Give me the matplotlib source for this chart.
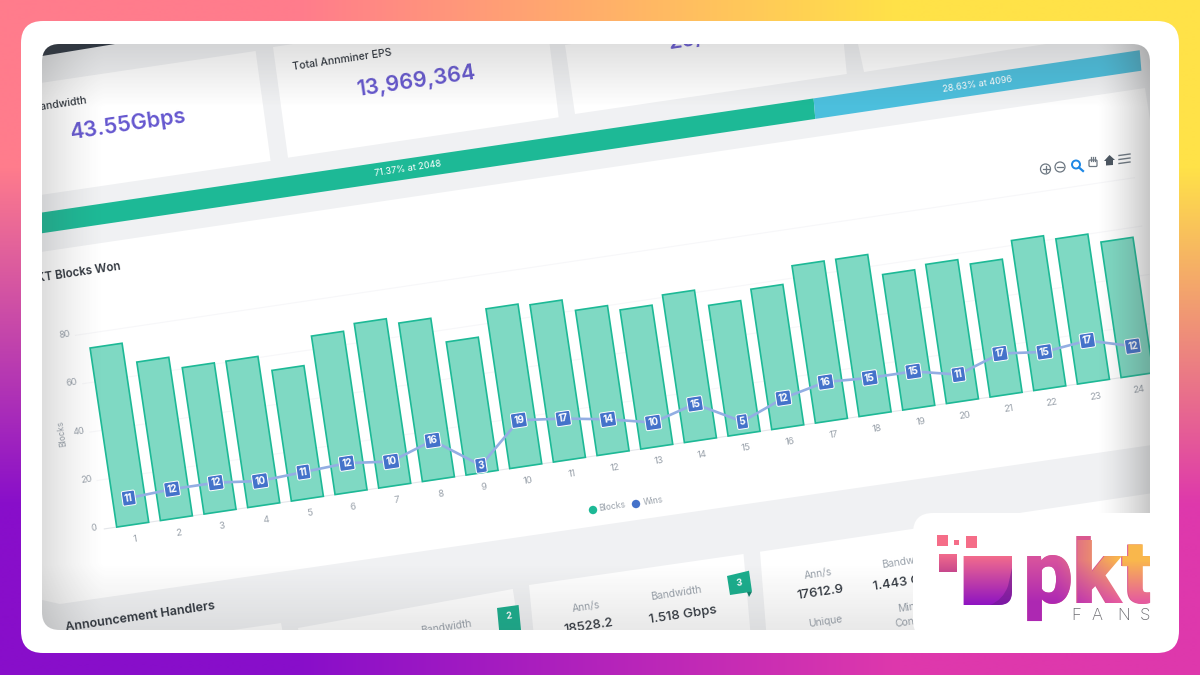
import numpy as np
import matplotlib
matplotlib.use('Agg')
import matplotlib.pyplot as plt
from matplotlib.patches import FancyBboxPatch, Polygon, Rectangle, Circle, PathPatch
from matplotlib.path import Path
from matplotlib.textpath import TextPath
from matplotlib.font_manager import FontProperties
from matplotlib.transforms import Affine2D, Bbox, TransformedBbox

# Data
categories = list(range(1, 25))
blocks = [74, 65.5, 60.5, 60.5, 54, 65.5, 68, 65.5, 55, 66, 65, 60,
          57.5, 61, 54, 58, 65, 65, 56, 57.5, 55, 62, 60, 56]
wins = [11, 12, 12, 10, 11, 12, 10, 16, 3, 19, 17, 14,
        10, 15, 5, 12, 16, 15, 15, 11, 17, 15, 17, 12]
y_ticks = [0, 20, 40, 60, 80]
progress_shares = [71.37, 28.63]
progress_labels = ['71.37% at 2048', '28.63% at 4096']

TILT = 8.4
GREEN = '#1db996'
BLUE = '#4472ca'
PURPLE = '#6557cf'
DARK = '#30363e'
GREY = '#9aa2ab'
FONT = 'Inter'

plt.rcParams['font.family'] = [FONT, 'DejaVu Sans']

fig = plt.figure(figsize=(12, 6.75), dpi=100)
ax = fig.add_axes([0, 0, 1, 1])
ax.set_axis_off()


def hold_page():
    ax.set_xlim(0, 1200)
    ax.set_ylim(675, 0)
    ax.set_aspect('auto')


# Backdrop gradient
corners = np.array([[[255, 124, 140], [255, 226, 72]],
                    [[136, 14, 202], [222, 56, 172]]]) / 255
ax.imshow(corners, extent=(0, 1200, 675, 0), interpolation='bilinear', zorder=0)
hold_page()
ax.add_patch(FancyBboxPatch((41, 41), 1118, 592, boxstyle='round,pad=20,rounding_size=22',
                            fc='white', ec='none', zorder=1))

panel = FancyBboxPatch((60, 62), 1072, 550, boxstyle='round,pad=18,rounding_size=18',
                       fc='#f0f1f3', ec='none', zorder=2)
ax.add_patch(panel)
# agg only clips text to rectangles
panel_box = TransformedBbox(Bbox([[42, 44], [1150, 630]]), ax.transData)


def clip(artist):
    artist.set_clip_path(panel)
    return artist


def poly(points, color, z=3):
    return clip(ax.add_patch(Polygon(points, closed=True, fc=color, ec='none', zorder=z)))


def label(x, y, s, size, color=DARK, weight='normal', ha='center', rot=TILT, z=8):
    t = ax.text(x, y, s, fontsize=size, color=color, fontweight=weight, ha=ha, va='center',
                rotation=rot, rotation_mode='anchor', zorder=z, clip_on=True)
    t.set_clip_box(panel_box)
    return t


# Cards around the chart
poly([(42, 44), (115, 44), (42, 56)], '#2b3440', 3)
poly([(0, 89), (255.6, 51), (270.6, 161), (0, 201)], 'white')
poly([(273, 47), (545, 7), (558.7, 117.3), (288, 157.7)], 'white')
poly([(565, 45), (840, 4), (846.8, 74), (575, 114)], 'white')
poly([(858, 44), (1100, 8), (1137, 30), (864, 72)], 'white')
poly([(7, 257), (1145, 88), (1200, 438), (60, 604), (42, 600)], 'white')
poly([(0, 664), (281, 623), (290, 670), (0, 700)], 'white')
poly([(298, 628), (512.8, 589), (522, 650), (305, 680)], 'white')
poly([(529, 585), (743.5, 554), (752, 650), (538, 680)], 'white')
poly([(760, 551.7), (1200, 486), (1200, 650), (770, 680)], 'white')

label(342, 60, 'Total Annminer EPS', 7.6, weight='medium')
label(416, 81, '13,969,364', 15.5, PURPLE, 'semibold')
label(87, 100, 'Bandwidth', 7.6, ha='right', weight='medium')
label(128, 125, '43.55Gbps', 15.5, PURPLE, 'semibold')
label(692, 40, '20/s', 15.5, PURPLE, 'semibold')

# Progress bar
progress = Affine2D.from_values(11.39, -1.684, 1.7, 20.5, 0.7, 218.6) + ax.transData
left = 0
for share, color, text in zip(progress_shares, [GREEN, '#4cbfdd'], progress_labels):
    for bar in ax.barh(0.5, share, height=1, left=left, color=color, transform=progress, zorder=4):
        clip(bar)
    ax.text(left + share / 2, 0.5, text, transform=progress, color='white', fontsize=6.6,
            ha='center', va='center', rotation=TILT, rotation_mode='anchor', zorder=5)
    left += share
hold_page()

# Chart: category/value plane mapped onto the tilted page
skew = Affine2D.from_values(43.67, -6.5, -0.36, -2.42, 89.03, 531.2) + ax.transData
for tick in y_ticks[1:]:
    clip(ax.plot([0.35, 24.6], [tick, tick], color='#f7f7f9', lw=0.8, transform=skew, zorder=4)[0])
clip(ax.plot([0.35, 24.6], [0, 0], color='#e4e6ea', lw=0.8, transform=skew, zorder=4)[0])

for bar in ax.bar(categories, blocks, width=0.733, color='#7fd9c3', edgecolor=GREEN, linewidth=1.2,
                  transform=skew, zorder=5):
    clip(bar)
clip(ax.plot(categories, wins, color='#93aee3', lw=1.9, transform=skew, zorder=6)[0])
for c, w in zip(categories, wins):
    ax.text(c, w, str(w), transform=skew, color='white', fontsize=7, fontweight='bold',
            ha='center', va='center', rotation=TILT, rotation_mode='anchor', zorder=7,
            bbox=dict(boxstyle='round,pad=0.24,rounding_size=0.15', fc=BLUE, ec='white', lw=0.7))
    ax.text(c, -6, str(c), transform=skew, color=GREY, fontsize=6.8,
            ha='center', va='center', rotation=TILT, rotation_mode='anchor', zorder=7)
for tick in y_ticks:
    ax.text(0.114, tick + 1, str(tick), transform=skew, color=GREY, fontsize=6.6,
            ha='center', va='center', rotation=TILT, rotation_mode='anchor', zorder=7)
hold_page()

label(61.5, 433, 'Blocks', 6, GREY, rot=98)
label(75, 273, 'PKT Blocks Won', 8.3, DARK, 'semibold')
clip(ax.add_patch(Circle((593, 510), 4.2, fc=GREEN, ec='none', zorder=7)))
clip(ax.add_patch(Circle((636, 504), 4.2, fc=BLUE, ec='none', zorder=7)))
label(612, 507, 'Blocks', 6.2, GREY)
label(653, 501, 'Wins', 6.2, GREY)

# Toolbar icons
for x, y in [(1045.5, 169), (1060, 167)]:
    ax.add_patch(Circle((x, y), 5, fc='none', ec='#6e7882', lw=0.9, zorder=7))
    ax.plot([x - 3, x + 3], [y, y], color='#6e7882', lw=0.9, zorder=7)
ax.plot([1045.5, 1045.5], [166, 172], color='#6e7882', lw=0.9, zorder=7)
ax.add_patch(Circle((1076, 164.5), 4, fc='none', ec='#1e88e5', lw=1.4, zorder=7))
ax.plot([1079, 1083], [167.5, 171], color='#1e88e5', lw=1.6, zorder=7)
ax.add_patch(FancyBboxPatch((1090, 161), 6, 4.5, boxstyle='round,pad=1', fc='none', ec='#6e7882',
                            lw=0.9, zorder=7))
for fx in [1090.5, 1092.8, 1095.1]:
    ax.plot([fx, fx], [157, 160.5], color='#6e7882', lw=0.9, zorder=7)
ax.add_patch(Polygon([(1104, 161), (1109.5, 155), (1115, 160), (1113, 160), (1113, 165), (1106, 165.5),
                      (1106, 161)], fc='#4c5661', ec='none', zorder=7))
for dy in [0, 4, 8]:
    ax.plot([1119, 1130], [155.5 + dy, 154 + dy], color='#6e7882', lw=1, zorder=7)

# Bottom row
label(140, 617, 'Announcement Handlers', 9, DARK, 'semibold')
label(446, 627, 'Bandwidth', 7.4, GREY)
label(586, 607, 'Ann/s', 7.4, GREY)
label(589, 626, '18528.2', 9.4, DARK, 'medium')
label(676, 593, 'Bandwidth', 7.4, GREY)
label(683, 615, '1.518 Gbps', 9.6, DARK, 'medium')
label(818, 574, 'Ann/s', 7.4, GREY)
label(820, 593, '17612.9', 9.6, DARK, 'medium')
label(907, 561, 'Bandwidth', 7.4, GREY)
label(908, 582, '1.443 Gbps', 9.4, DARK, 'medium')
label(825, 622, 'Unique', 7.4, GREY)
label(906, 608, 'Min', 7.4, GREY)
label(908, 622, 'Conn', 7.4, GREY)
poly([(497, 608), (518.6, 605), (522, 640), (500, 640)], '#1aae8d', 7)
label(509, 616, '2', 6.6, 'white', 'bold')
poly([(727, 576), (749, 570.7), (752, 591.7), (730, 595)], '#1aae8d', 7)
poly([(747, 592), (752, 591.7), (749, 597)], '#12806a', 7)
label(739, 583, '3', 6.6, 'white', 'bold')

# Shading along the panel edges
px = np.linspace(42, 1150, 554)
py = np.linspace(44, 630, 293)
gx, gy = np.meshgrid(px, py)
a_left = 0.18 * np.clip(1 - (gx - 42) / 62, 0, 1) ** 1.4
a_right = 0.30 * np.clip((gx - 1098) / 52, 0, 1) ** 1.4
a_top = 0.17 * np.clip(1 - (gy - 44) / 62, 0, 1)
a_bottom = 0.12 * np.clip((gy - 565) / 65, 0, 1)
shade = np.zeros(gx.shape + (4,))
shade[..., :3] = 0.28
shade[..., 3] = 1 - (1 - a_left) * (1 - a_right) * (1 - a_top) * (1 - a_bottom)
clip(ax.imshow(shade, extent=(42, 1150, 630, 44), interpolation='bilinear', zorder=9))
hold_page()

# Logo corner
ax.add_patch(FancyBboxPatch((933, 533), 217, 87, boxstyle='round,pad=20,rounding_size=20',
                            fc='white', ec='none', zorder=10))
for x0, y0, w, h in [(937, 535, 10.7, 11), (954, 539.5, 5.3, 5.5), (965.5, 536, 11.5, 12)]:
    ax.add_patch(Rectangle((x0, y0), w, h, fc='#f56d88', ec='none', zorder=11))


def gradient_box(patch, top, bottom, extent):
    ramp = np.linspace(0, 1, 64)[:, None, None]
    img = np.array(top)[None, None, :] * (1 - ramp) + np.array(bottom)[None, None, :] * ramp
    im = ax.imshow(img, extent=extent, zorder=12, interpolation='bilinear')
    im.set_clip_path(patch)


square = ax.add_patch(Polygon([(938.7, 554.3), (956.7, 554.3), (956.7, 571.7), (938.7, 571.7)],
                              fc='none', ec='none', zorder=11))
gradient_box(square, (0.95, 0.42, 0.55), (0.78, 0.28, 0.55), (938, 957, 572, 554))
mark_path = Path([(963.6, 556), (1012, 556), (1012, 592), (1012, 605), (999, 605), (963.6, 605), (963.6, 556)],
                 [Path.MOVETO, Path.LINETO, Path.LINETO, Path.CURVE3, Path.CURVE3, Path.LINETO, Path.CLOSEPOLY])
mark = ax.add_patch(PathPatch(mark_path, fc='none', ec='none', zorder=11))
gradient_box(mark, (0.95, 0.42, 0.55), (0.56, 0.08, 0.76), (963, 1013, 605, 556))
fold = Path([(1012, 568), (1012, 592), (1012, 605), (999, 605), (990, 605), (1003, 600), (1008, 586), (1012, 568)],
            [Path.MOVETO, Path.LINETO, Path.CURVE3, Path.CURVE3, Path.LINETO, Path.CURVE3, Path.CURVE3, Path.CLOSEPOLY])
ax.add_patch(PathPatch(fold, fc='#6a1a8c', alpha=0.55, ec='none', zorder=13))

logo_font = FontProperties(family='Roboto', weight='black')
logo_size = 64
logo_x, logo_base = 1023, 603
ax.text(logo_x, logo_base, 'pkt', fontproperties=logo_font, fontsize=logo_size, color='#d9588f',
        ha='left', va='baseline', zorder=12)
word = TextPath((0, 0), 'pkt', size=logo_size, prop=logo_font)
word_patch = PathPatch(word, fc='none', ec='none', zorder=12,
                       transform=Affine2D().scale(100 / 72, -100 / 72).translate(logo_x, logo_base) + ax.transData)
ax.add_patch(word_patch)
grad = np.array([[[0.84, 0.32, 0.62], [0.98, 0.72, 0.30]],
                 [[0.68, 0.16, 0.70], [0.90, 0.36, 0.62]]])
logo_img = ax.imshow(grad, extent=(1026, 1150, 622, 540), interpolation='bilinear', zorder=13)
logo_img.set_clip_path(word_patch)
for letter, x in zip('FANS', [1075.7, 1097.5, 1124, 1144.6]):
    ax.text(x, 615, letter, fontsize=12, color='#6b6b70', fontweight='light', ha='center', va='center', zorder=14)

hold_page()
fig.savefig('out.png', dpi=100)
